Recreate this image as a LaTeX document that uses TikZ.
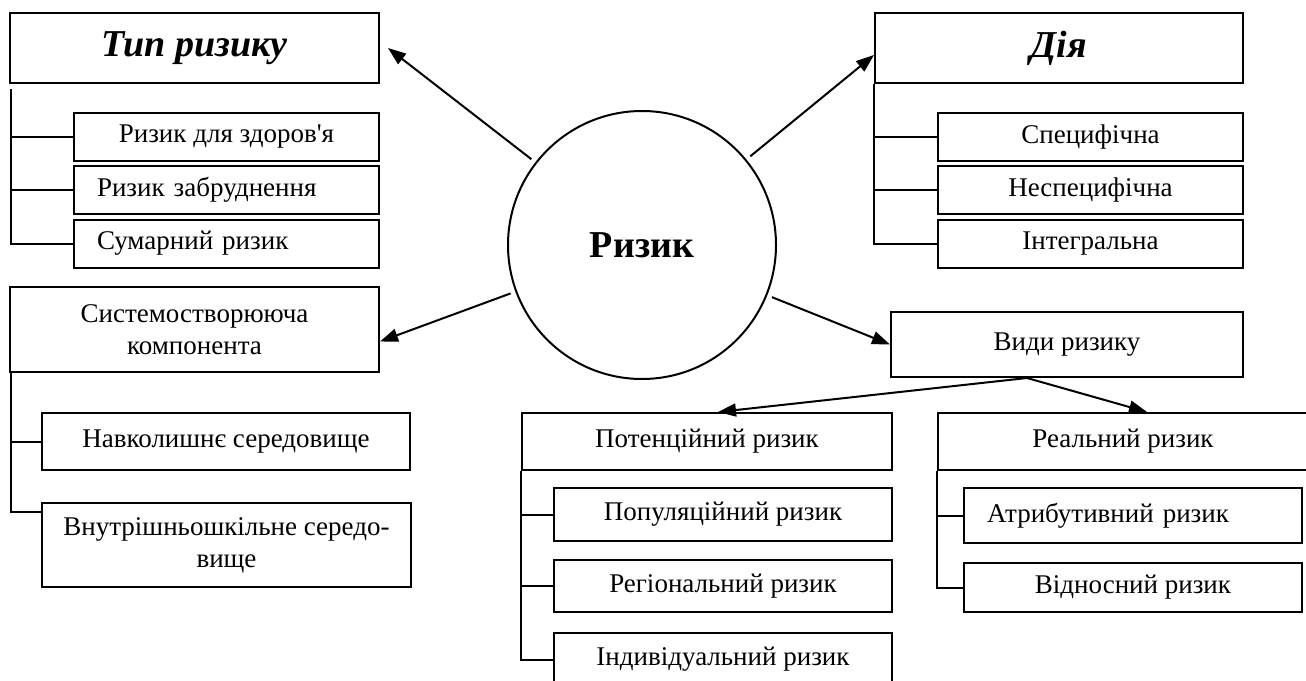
\documentclass[tikz,border=0pt]{standalone}
\usepackage{fontspec}
\setmainfont{Liberation Serif}[Ligatures=TeXOff]
\usetikzlibrary{arrows.meta}

\begin{document}
\begin{tikzpicture}[x=1pt,y=-1pt,line width=2pt,
    every node/.style={font=\fontsize{27}{32}\selectfont},
    box/.style={draw,inner sep=0pt,align=center},
    boxsize/.style 2 args={minimum width=#1pt,minimum height=#2pt},
    leftbox/.style={box,align=left,inner xsep=23pt,text width=#1pt},
    title/.style={font=\fontsize{38}{42}\selectfont\bfseries\itshape},
    arr/.style={-{Triangle[length=18pt,width=13pt]},shorten <=5pt}]
  \useasboundingbox (0,0) rectangle (1306,680);
  \clip (0,0) rectangle (1306,680);

  % centre
  \node[draw,circle,minimum size=268pt,inner sep=0pt,
        font=\fontsize{38}{42}\selectfont\bfseries] (risk) at (642,245) {Ризик};

  % type of risk
  \node[box,boxsize={369}{70},title] (typ) at (194.5,48) {Тип ризику};
  \node[box,boxsize={305}{48}] (h1) at (226.5,137) {Ризик для здоров'я};
  \node[leftbox=259,boxsize={305}{48}] (h2) at (226.5,190) {Ризик забруднення};
  \node[leftbox=259,boxsize={305}{48}] (h3) at (226.5,243.5) {Сумарний ризик};

  % action
  \node[box,boxsize={368}{70},title] (diya) at (1059,48) {Дія};
  \node[box,boxsize={305}{48}] (d1) at (1090.5,137) {Специфічна};
  \node[box,boxsize={305}{48}] (d2) at (1090.5,190) {Неспецифічна};
  \node[box,boxsize={305}{48}] (d3) at (1090.5,243.5) {Інтегральна};

  % system component
  \node[box,boxsize={369}{85}] (sys) at (194.5,329.5) {Системостворююча\\компонента};
  \node[box,boxsize={368}{57}] (nav) at (226,441.5) {Навколишнє середовище};
  \node[box,boxsize={369}{84}] (vn) at (226.5,545) {Внутрішньошкільне середо-\\вище};

  % kinds of risk
  \node[box,boxsize={352}{65}] (vydy) at (1067,344.5) {Види ризику};
  \node[box,boxsize={370}{57}] (pot) at (707,441.5) {Потенційний ризик};
  \node[box,boxsize={370}{57}] (real) at (1123,441.5) {Реальний ризик};
  \node[box,boxsize={338}{53}] (p1) at (723,514.5) {Популяційний ризик};
  \node[box,boxsize={338}{52}] (p2) at (723,586) {Регіональний ризик};
  \node[box,boxsize={338}{53}] (p3) at (723,659.5) {Індивідуальний ризик};
  \node[leftbox=292,boxsize={338}{55}] (r1) at (1133,515.5) {Атрибутивний ризик};
  \node[box,boxsize={338}{49}] (r2) at (1133,587.5) {Відносний ризик};

  % arrows
  \draw[arr] (risk) -- ([xshift=8pt]typ.east);
  \draw[arr] (risk) -- ([yshift=-7pt]diya.west);
  \draw[arr] (risk) -- ([yshift=-12pt]sys.east);
  \draw[arr] (risk) -- (vydy.west);
  \draw[arr,shorten <=0pt] ([xshift=-40pt]vydy.south) -- ([xshift=11pt]pot.north);
  \draw[arr,shorten <=0pt] ([xshift=-40pt]vydy.south) -- ([xshift=24pt]real.north);

  % brackets
  \foreach \c in {h1,h2,h3}
    \draw ([xshift=2pt,yshift=-5pt]typ.south west) |- (\c.west);
  \foreach \c in {d1,d2,d3}
    \draw (diya.south west) |- (\c.west);
  \draw ([xshift=2pt]sys.south west) |- (nav.west);
  \draw ([xshift=2pt]sys.south west) |- ([yshift=-10pt]vn.north west);
  \foreach \c in {p1,p2,p3}
    \draw (pot.south west) |- (\c.west);
  \foreach \c in {r1,r2}
    \draw (real.south west) |- (\c.west);
\end{tikzpicture}
\end{document}
